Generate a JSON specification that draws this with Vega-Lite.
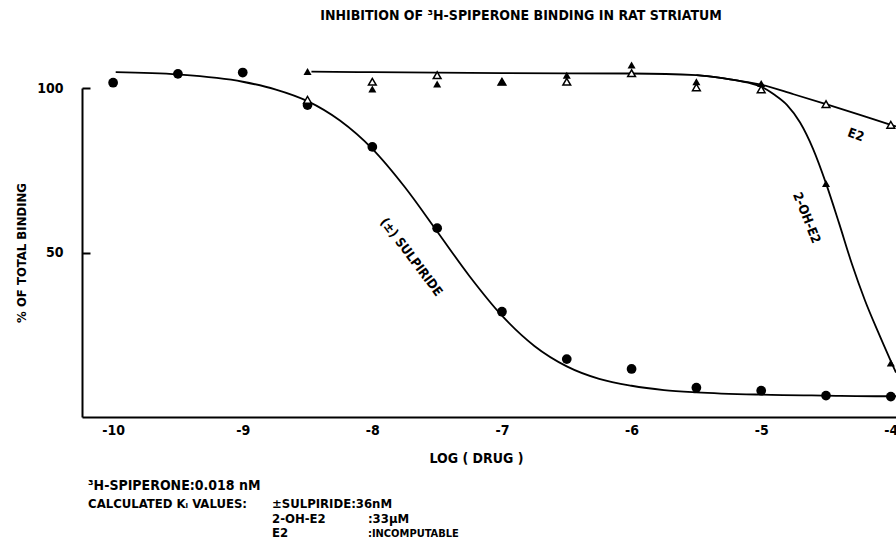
{
  "$schema": "https://vega.github.io/schema/vega-lite/v6.json",
  "width": 814,
  "height": 329,
  "autosize": {"type": "none"},
  "padding": {"left": 82, "top": 88, "right": 0, "bottom": 125},
  "background": "white",
  "config": {
    "font": "DejaVu Sans Condensed, Liberation Sans, sans-serif",
    "view": {"stroke": null}
  },
  "title": {
    "text": "INHIBITION OF ³H-SPIPERONE BINDING IN RAT STRIATUM",
    "font": "DejaVu Sans Condensed, Liberation Sans, sans-serif",
    "fontSize": 14,
    "fontWeight": "bold",
    "color": "black",
    "anchor": "middle",
    "dx": 32,
    "offset": 38
  },
  "datasets": {
    "pts": [
      {"compound": "SULPIRIDE", "log_dose": -10, "pct": 101.6},
      {"compound": "SULPIRIDE", "log_dose": -9.5, "pct": 104.3},
      {"compound": "SULPIRIDE", "log_dose": -9, "pct": 104.7},
      {"compound": "SULPIRIDE", "log_dose": -8.5, "pct": 94.8},
      {"compound": "SULPIRIDE", "log_dose": -8, "pct": 82.1},
      {"compound": "SULPIRIDE", "log_dose": -7.5, "pct": 57.4},
      {"compound": "SULPIRIDE", "log_dose": -7, "pct": 32.0},
      {"compound": "SULPIRIDE", "log_dose": -6.5, "pct": 17.6},
      {"compound": "SULPIRIDE", "log_dose": -6, "pct": 14.6},
      {"compound": "SULPIRIDE", "log_dose": -5.5, "pct": 8.9},
      {"compound": "SULPIRIDE", "log_dose": -5, "pct": 8.0},
      {"compound": "SULPIRIDE", "log_dose": -4.5, "pct": 6.5},
      {"compound": "SULPIRIDE", "log_dose": -4, "pct": 6.2},
      {"compound": "E2", "log_dose": -8.5, "pct": 96.4},
      {"compound": "E2", "log_dose": -8, "pct": 101.9},
      {"compound": "E2", "log_dose": -7.5, "pct": 103.9},
      {"compound": "E2", "log_dose": -7, "pct": 101.9},
      {"compound": "E2", "log_dose": -6.5, "pct": 101.9},
      {"compound": "E2", "log_dose": -6, "pct": 104.5},
      {"compound": "E2", "log_dose": -5.5, "pct": 100.2},
      {"compound": "E2", "log_dose": -5, "pct": 99.6},
      {"compound": "E2", "log_dose": -4.5, "pct": 95.1},
      {"compound": "E2", "log_dose": -4, "pct": 88.8},
      {"compound": "2-OH-E2", "log_dose": -8.5, "pct": 105.0},
      {"compound": "2-OH-E2", "log_dose": -8, "pct": 99.7},
      {"compound": "2-OH-E2", "log_dose": -7.5, "pct": 101.2},
      {"compound": "2-OH-E2", "log_dose": -7, "pct": 101.9},
      {"compound": "2-OH-E2", "log_dose": -6.5, "pct": 103.9},
      {"compound": "2-OH-E2", "log_dose": -6, "pct": 107.0},
      {"compound": "2-OH-E2", "log_dose": -5.5, "pct": 101.9},
      {"compound": "2-OH-E2", "log_dose": -5, "pct": 101.4},
      {"compound": "2-OH-E2", "log_dose": -4.5, "pct": 71.0},
      {"compound": "2-OH-E2", "log_dose": -4, "pct": 16.4}
    ],
    "curves": [
      {"compound": "SULPIRIDE", "log_dose": -9.98, "pct": 104.8},
      {"compound": "SULPIRIDE", "log_dose": -9.5, "pct": 104.1},
      {"compound": "SULPIRIDE", "log_dose": -9, "pct": 101.9},
      {"compound": "SULPIRIDE", "log_dose": -8.75, "pct": 99.6},
      {"compound": "SULPIRIDE", "log_dose": -8.5, "pct": 96.0},
      {"compound": "SULPIRIDE", "log_dose": -8.25, "pct": 90.1},
      {"compound": "SULPIRIDE", "log_dose": -8, "pct": 81.5},
      {"compound": "SULPIRIDE", "log_dose": -7.75, "pct": 69.9},
      {"compound": "SULPIRIDE", "log_dose": -7.5, "pct": 56.4},
      {"compound": "SULPIRIDE", "log_dose": -7.25, "pct": 42.8},
      {"compound": "SULPIRIDE", "log_dose": -7, "pct": 30.8},
      {"compound": "SULPIRIDE", "log_dose": -6.75, "pct": 21.6},
      {"compound": "SULPIRIDE", "log_dose": -6.5, "pct": 15.4},
      {"compound": "SULPIRIDE", "log_dose": -6.25, "pct": 11.6},
      {"compound": "SULPIRIDE", "log_dose": -6, "pct": 9.5},
      {"compound": "SULPIRIDE", "log_dose": -5.75, "pct": 8.2},
      {"compound": "SULPIRIDE", "log_dose": -5.5, "pct": 7.5},
      {"compound": "SULPIRIDE", "log_dose": -5, "pct": 6.8},
      {"compound": "SULPIRIDE", "log_dose": -4.5, "pct": 6.5},
      {"compound": "SULPIRIDE", "log_dose": -4, "pct": 6.3},
      {"compound": "SULPIRIDE", "log_dose": -3.96, "pct": 6.3},
      {"compound": "E2", "log_dose": -8.47, "pct": 105.0},
      {"compound": "E2", "log_dose": -8, "pct": 104.8},
      {"compound": "E2", "log_dose": -7, "pct": 104.5},
      {"compound": "E2", "log_dose": -6, "pct": 104.4},
      {"compound": "E2", "log_dose": -5.5, "pct": 103.9},
      {"compound": "E2", "log_dose": -5.25, "pct": 102.7},
      {"compound": "E2", "log_dose": -5, "pct": 101.0},
      {"compound": "E2", "log_dose": -4.75, "pct": 98.1},
      {"compound": "E2", "log_dose": -4.5, "pct": 95.1},
      {"compound": "E2", "log_dose": -4.25, "pct": 92.0},
      {"compound": "E2", "log_dose": -4, "pct": 88.8},
      {"compound": "E2", "log_dose": -3.96, "pct": 88.3},
      {"compound": "2-OH-E2", "log_dose": -5.5, "pct": 103.9},
      {"compound": "2-OH-E2", "log_dose": -5.25, "pct": 102.7},
      {"compound": "2-OH-E2", "log_dose": -5.1, "pct": 101.6},
      {"compound": "2-OH-E2", "log_dose": -5, "pct": 100.4},
      {"compound": "2-OH-E2", "log_dose": -4.9, "pct": 98.0},
      {"compound": "2-OH-E2", "log_dose": -4.8, "pct": 94.8},
      {"compound": "2-OH-E2", "log_dose": -4.7, "pct": 89.5},
      {"compound": "2-OH-E2", "log_dose": -4.6, "pct": 81.5},
      {"compound": "2-OH-E2", "log_dose": -4.5, "pct": 71.0},
      {"compound": "2-OH-E2", "log_dose": -4.4, "pct": 59.0},
      {"compound": "2-OH-E2", "log_dose": -4.3, "pct": 46.5},
      {"compound": "2-OH-E2", "log_dose": -4.2, "pct": 35.5},
      {"compound": "2-OH-E2", "log_dose": -4.1, "pct": 26.0},
      {"compound": "2-OH-E2", "log_dose": -4, "pct": 17.0},
      {"compound": "2-OH-E2", "log_dose": -3.96, "pct": 13.5}
    ]
  },
  "layer": [
    {
      "data": {"name": "curves"},
      "mark": {"type": "line", "interpolate": "monotone", "color": "black", "strokeWidth": 1.8},
      "encoding": {
        "detail": {"field": "compound"},
        "x": {
          "field": "log_dose",
          "type": "quantitative",
          "scale": {"domain": [-10.24, -3.96], "nice": false, "zero": false},
          "axis": {
            "values": [-10, -9, -8, -7, -6, -5, -4],
            "labelExpr": "'' + datum.value",
            "grid": false,
            "ticks": false,
            "labelFlush": false,
            "domainColor": "black",
            "domainWidth": 2,
            "labelFont": "DejaVu Sans Condensed, Liberation Sans, sans-serif",
            "labelFontSize": 14,
            "labelFontWeight": "bold",
            "labelColor": "black",
            "labelPadding": 6,
            "title": "LOG ( DRUG )",
            "titleFont": "DejaVu Sans Condensed, Liberation Sans, sans-serif",
            "titleFontSize": 14,
            "titleFontWeight": "bold",
            "titleColor": "black",
            "titlePadding": 14,
            "titleX": 394
          }
        },
        "y": {
          "field": "pct",
          "type": "quantitative",
          "scale": {"domain": [0, 100], "nice": false, "zero": false},
          "axis": {
            "values": [50, 100],
            "grid": false,
            "tickSize": -8,
            "tickWidth": 2,
            "tickColor": "black",
            "domainColor": "black",
            "domainWidth": 2,
            "labelFont": "DejaVu Sans Condensed, Liberation Sans, sans-serif",
            "labelFontSize": 14,
            "labelFontWeight": "bold",
            "labelColor": "black",
            "labelPadding": 27,
            "title": "% OF TOTAL BINDING",
            "titleFont": "DejaVu Sans Condensed, Liberation Sans, sans-serif",
            "titleFontSize": 13,
            "titleFontWeight": "bold",
            "titleColor": "black",
            "titlePadding": 8
          }
        }
      }
    },
    {
      "data": {"name": "pts"},
      "transform": [{"filter": "datum.compound === 'SULPIRIDE'"}],
      "mark": {"type": "point", "shape": "circle", "filled": true, "color": "black", "size": 95, "opacity": 1},
      "encoding": {"x": {"field": "log_dose", "type": "quantitative"}, "y": {"field": "pct", "type": "quantitative"}}
    },
    {
      "data": {"name": "pts"},
      "transform": [{"filter": "datum.compound === 'E2'"}],
      "mark": {"type": "point", "shape": "triangle-up", "filled": true, "fill": "white", "stroke": "black", "strokeWidth": 1.5, "size": 60, "opacity": 1},
      "encoding": {"x": {"field": "log_dose", "type": "quantitative"}, "y": {"field": "pct", "type": "quantitative"}}
    },
    {
      "data": {"name": "pts"},
      "transform": [{"filter": "datum.compound === '2-OH-E2'"}],
      "mark": {"type": "point", "shape": "triangle-up", "filled": true, "color": "black", "size": 65, "opacity": 1},
      "encoding": {"x": {"field": "log_dose", "type": "quantitative"}, "y": {"field": "pct", "type": "quantitative"}}
    },
    {
      "data": {"values": [{"k": 1}]},
      "mark": {"type": "text", "text": "(±) SULPIRIDE", "angle": 53, "fontSize": 13, "fontWeight": "bold", "color": "black", "align": "center", "baseline": "middle"},
      "encoding": {"x": {"datum": -7.70, "type": "quantitative"}, "y": {"datum": 48.6, "type": "quantitative"}}
    },
    {
      "data": {"values": [{"k": 1}]},
      "mark": {"type": "text", "text": "2-OH-E2", "angle": 68, "fontSize": 13, "fontWeight": "bold", "color": "black", "align": "center", "baseline": "middle"},
      "encoding": {"x": {"datum": -4.65, "type": "quantitative"}, "y": {"datum": 60.5, "type": "quantitative"}}
    },
    {
      "data": {"values": [{"k": 1}]},
      "mark": {"type": "text", "text": "E2", "angle": 20, "fontSize": 13, "fontWeight": "bold", "color": "black", "align": "center", "baseline": "middle"},
      "encoding": {"x": {"datum": -4.27, "type": "quantitative"}, "y": {"datum": 85.7, "type": "quantitative"}}
    },
    {
      "data": {"values": [{"k": 1}]},
      "mark": {"type": "text", "text": "³H-SPIPERONE:0.018 nM", "fontSize": 14, "fontWeight": "bold", "color": "black", "align": "left", "baseline": "alphabetic"},
      "encoding": {"x": {"datum": -10.193, "type": "quantitative"}, "y": {"datum": -22.2, "type": "quantitative"}}
    },
    {
      "data": {"values": [{"k": 1}]},
      "mark": {"type": "text", "text": "CALCULATED Kᵢ VALUES:", "fontSize": 13, "fontWeight": "bold", "color": "black", "align": "left", "baseline": "alphabetic"},
      "encoding": {"x": {"datum": -10.193, "type": "quantitative"}, "y": {"datum": -27.7, "type": "quantitative"}}
    },
    {
      "data": {"values": [{"k": 1}]},
      "mark": {"type": "text", "text": "±SULPIRIDE:36nM", "fontSize": 13, "fontWeight": "bold", "color": "black", "align": "left", "baseline": "alphabetic"},
      "encoding": {"x": {"datum": -8.774, "type": "quantitative"}, "y": {"datum": -27.7, "type": "quantitative"}}
    },
    {
      "data": {"values": [{"k": 1}]},
      "mark": {"type": "text", "text": "2-OH-E2", "fontSize": 13, "fontWeight": "bold", "color": "black", "align": "left", "baseline": "alphabetic"},
      "encoding": {"x": {"datum": -8.774, "type": "quantitative"}, "y": {"datum": -32.1, "type": "quantitative"}}
    },
    {
      "data": {"values": [{"k": 1}]},
      "mark": {"type": "text", "text": ":33μM", "fontSize": 13, "fontWeight": "bold", "color": "black", "align": "left", "baseline": "alphabetic"},
      "encoding": {"x": {"datum": -8.034, "type": "quantitative"}, "y": {"datum": -32.1, "type": "quantitative"}}
    },
    {
      "data": {"values": [{"k": 1}]},
      "mark": {"type": "text", "text": "E2", "fontSize": 13, "fontWeight": "bold", "color": "black", "align": "left", "baseline": "alphabetic"},
      "encoding": {"x": {"datum": -8.774, "type": "quantitative"}, "y": {"datum": -36.4, "type": "quantitative"}}
    },
    {
      "data": {"values": [{"k": 1}]},
      "mark": {"type": "text", "text": ":INCOMPUTABLE", "fontSize": 11, "fontWeight": "bold", "color": "black", "align": "left", "baseline": "alphabetic"},
      "encoding": {"x": {"datum": -8.034, "type": "quantitative"}, "y": {"datum": -36.4, "type": "quantitative"}}
    }
  ]
}
